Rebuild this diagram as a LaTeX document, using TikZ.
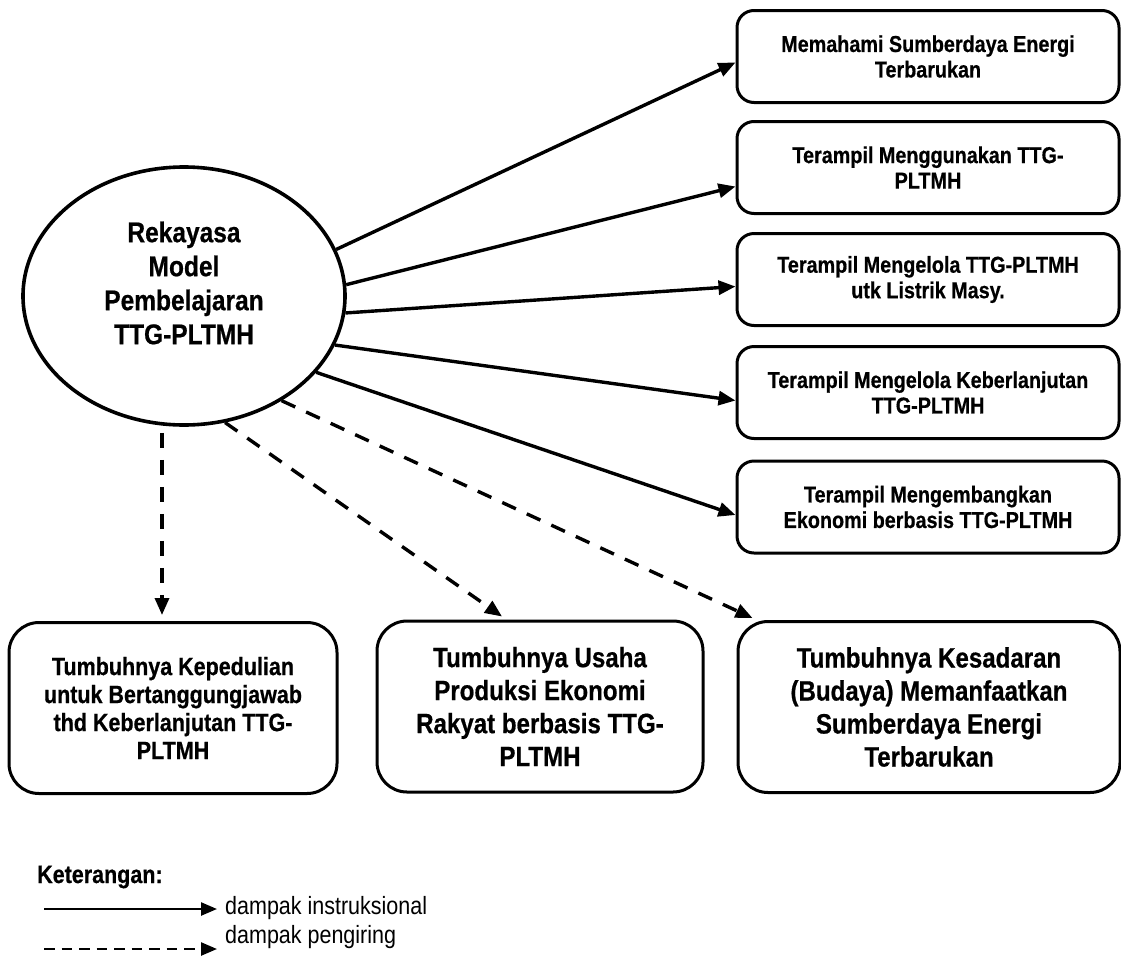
\documentclass[tikz,border=0pt]{standalone}
\usepackage{fontspec}
\newfontfamily\nar{Liberation Sans}[FakeStretch=0.86, BoldFeatures={FakeBold=0.6}]
\usetikzlibrary{arrows.meta,shapes.geometric}
\begin{document}
\begin{tikzpicture}[x=1pt,y=-1pt,
  rbox/.style={draw, line width=3pt, rounded corners=17pt, minimum width=382pt, minimum height=92pt, inner sep=0pt, align=center, font=\nar\bfseries\fontsize{23}{25.5}\selectfont},
  bbox/.style={draw, line width=3pt, rounded corners=30pt, minimum height=171pt, inner sep=0pt, align=center, font=\nar\bfseries\fontsize{28}{33}\selectfont},
  ar/.style={line width=3.4pt, -{Triangle[length=17pt,width=14pt]}},
  dar/.style={ar, dash pattern=on 15pt off 12pt},
  lar/.style={line width=2.4pt, -{Triangle[length=16pt,width=13pt]}},
  ldar/.style={lar, dash pattern=on 10.5pt off 7pt},
  lgtext/.style={anchor=base west, inner sep=0pt, font=\nar\fontsize{25}{30}\selectfont}
]
\useasboundingbox (0,0) rectangle (1121,956);

% central ellipse
\node[ellipse, draw, line width=3.6pt, minimum width=322pt, minimum height=258pt, inner sep=0pt] (ell) at (184,296) {};
\node[align=center, inner sep=0pt, font=\nar\bfseries\fontsize{28.5}{34}\selectfont] (ellt) at (184,283)
  {Rekayasa\\Model\\Pembelajaran\\TTG-PLTMH};

% right boxes
\node[rbox] (r1) at (928,56.5) {Memahami Sumberdaya Energi\\Terbarukan};
\node[rbox] (r2) at (928,167.5) {Terampil Menggunakan TTG-\\PLTMH};
\node[rbox] (r3) at (928,279.5) {Terampil Mengelola TTG-PLTMH\\utk Listrik Masy.};
\node[rbox] (r4) at (928,392.5) {Terampil Mengelola Keberlanjutan\\TTG-PLTMH};
\node[rbox] (r5) at (928,507) {Terampil Mengembangkan\\Ekonomi berbasis TTG-PLTMH};

% bottom boxes
\node[bbox, minimum width=328pt, font=\nar\bfseries\fontsize{25}{28}\selectfont] (bA) at (173,708)
  {Tumbuhnya Kepedulian\\untuk Bertanggungjawab\\thd Keberlanjutan TTG-\\PLTMH};
\node[bbox, minimum width=326pt] (bB) at (540,706.5)
  {Tumbuhnya Usaha\\Produksi Ekonomi\\Rakyat berbasis TTG-\\PLTMH};
\node[bbox, minimum width=382pt] (bC) at (929,707)
  {Tumbuhnya Kesadaran\\(Budaya) Memanfaatkan\\Sumberdaya Energi\\Terbarukan};

% instructional effects
\draw[ar] (ell.17) -- ([yshift=-6pt]r1.west);
\draw[ar] (ell.4) -- ([yshift=-19pt]r2.west);
\draw[ar] (ell.354) -- ([yshift=-7pt]r3.west);
\draw[ar] (ell.342) -- ([yshift=-8pt]r4.west);
\draw[ar] (ell.330) -- ([yshift=-8pt]r5.west);

% accompanying effects
\coordinate (vA) at ([xshift=-11pt,yshift=6pt]bA.north);
\draw[dar, shorten <=6pt] (ell.south -| vA) -- (vA);
\draw[dar] (ell.288) -- ([xshift=-38pt,yshift=3pt]bB.north);
\draw[dar] (ell.313) -- ([xshift=16pt,yshift=2pt]bC.north west);

% legend
\node[lgtext, font=\nar\bfseries\fontsize{25}{30}\selectfont] (ket) at (37,883) {Keterangan:};
\coordinate (s1) at (44,909);
\coordinate (e1) at (217,909);
\coordinate (s2) at (44,949);
\coordinate (e2) at (217,949);
\draw[lar] (s1) -- (e1);
\draw[ldar] (s2) -- (e2);
\node[lgtext] (l1) at (225,914) {dampak instruksional};
\node[lgtext] (l2) at (225,943) {dampak pengiring};
\end{tikzpicture}
\end{document}
